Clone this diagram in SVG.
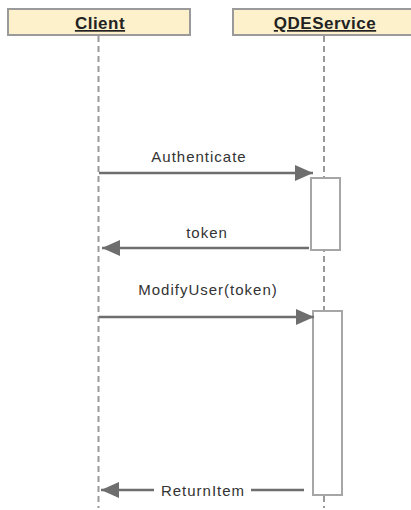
<svg xmlns="http://www.w3.org/2000/svg" width="411" height="510" viewBox="0 0 411 510">
<style>
.head{fill:#fdf1cb;stroke:#9a9a9a;stroke-width:2}
.htxt{font-family:"Liberation Sans",Arial,sans-serif;font-size:17px;font-weight:bold;fill:#222;text-decoration:underline;letter-spacing:0.5px}
.life{stroke:#999;stroke-width:2;stroke-dasharray:6,4;fill:none}
.act{fill:#fff;stroke:#a6a6a6;stroke-width:2}
.msg{stroke:#6e6e6e;stroke-width:2.5;fill:none}
.lbl{font-family:"Liberation Sans",Arial,sans-serif;font-size:15px;fill:#333;letter-spacing:1px}
</style>
<defs>
<marker id="ah" viewBox="0 0 18 16" refX="18" refY="8" markerWidth="18" markerHeight="16" markerUnits="userSpaceOnUse" orient="auto">
<path d="M0,0 L18,8 L0,16 Z" fill="#6e6e6e"/>
</marker>
</defs>
<rect width="411" height="510" fill="#fff"/>
<g id="client">
<rect class="head" x="8" y="9" width="182" height="26"/>
<text class="htxt" x="100" y="29" text-anchor="middle">Client</text>
<line class="life" x1="98.5" y1="36" x2="98.5" y2="508"/>
</g>
<g id="qdeservice">
<rect class="head" x="233" y="9" width="182" height="26"/>
<text class="htxt" x="325" y="29" text-anchor="middle">QDEService</text>
<line class="life" x1="324" y1="36" x2="324" y2="508"/>
<rect class="act" x="311" y="178" width="29" height="72"/>
<rect class="act" x="313" y="311" width="29" height="184"/>
</g>
<g id="connectors">
<line class="msg" x1="99" y1="173" x2="313" y2="173" marker-end="url(#ah)"/>
<text class="lbl" x="199" y="162" text-anchor="middle">Authenticate</text>
<line class="msg" x1="309" y1="248" x2="102" y2="248" marker-end="url(#ah)"/>
<text class="lbl" x="207" y="238" text-anchor="middle">token</text>
<line class="msg" x1="99" y1="317" x2="314" y2="317" marker-end="url(#ah)"/>
<text class="lbl" x="208" y="295" text-anchor="middle">ModifyUser(token)</text>
<line class="msg" x1="304" y1="490" x2="101" y2="490" marker-end="url(#ah)"/>
<rect x="154" y="480" width="97" height="20" fill="#fff"/>
<text class="lbl" x="203" y="496" text-anchor="middle">ReturnItem</text>
</g>
</svg>
